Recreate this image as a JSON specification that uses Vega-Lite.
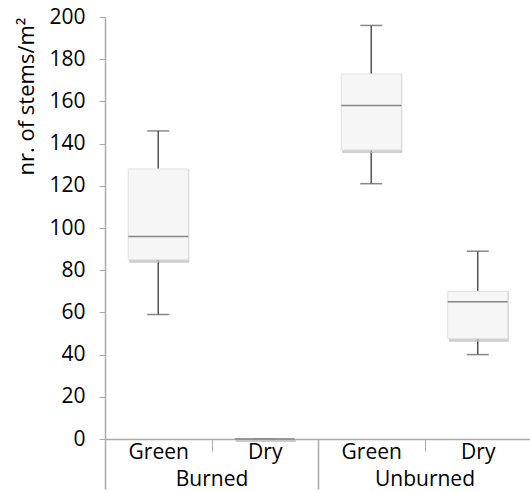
{
  "$schema": "https://vega.github.io/schema/vega-lite/v6.json",
  "width": 426,
  "height": 422,
  "autosize": "none",
  "padding": {"left": 105, "top": 17, "right": 0, "bottom": 54},
  "background": "white",
  "config": {
    "view": {"stroke": null},
    "font": "Open Sans",
    "axis": {"grid": false, "labelFont": "Open Sans", "titleFont": "Open Sans", "labelColor": "#000", "titleColor": "#000", "domainColor": "#aaa", "tickColor": "#aaa"}
  },
  "data": {
    "values": [
      {"group": "Burned", "cat": "Burned Green", "lower": 59, "q1": 85, "median": 96, "q3": 128, "upper": 146},
      {"group": "Burned", "cat": "Burned Dry", "lower": 0, "q1": 0, "median": 0, "q3": 0, "upper": 0},
      {"group": "Unburned", "cat": "Unburned Green", "lower": 121, "q1": 137, "median": 158, "q3": 173, "upper": 196},
      {"group": "Unburned", "cat": "Unburned Dry", "lower": 40, "q1": 47.5, "median": 65, "q3": 70, "upper": 89}
    ]
  },
  "layer": [
    {
      "encoding": {
        "x": {
          "field": "cat", "type": "nominal", "sort": null,
          "scale": {"paddingInner": 0, "paddingOuter": 0},
          "axis": {"orient": "bottom", "title": null, "labelAngle": 0, "labelExpr": "split(datum.label, ' ')[1]", "tickBand": "extent", "tickSize": 12, "labelPadding": -10, "labelFontSize": 21, "domainColor": "#aaa", "domainWidth": 1.5}
        }
      },
      "layer": [
        {
          "mark": {"type": "rule", "color": "#555", "strokeWidth": 1.5},
          "encoding": {
            "y": {"field": "lower", "type": "quantitative", "scale": {"domain": [0, 200], "nice": false},
              "axis": {"title": "nr. of stems/m²", "titleFontSize": 22, "titleFontWeight": "normal", "titleAnchor": "end", "titlePadding": 10, "labelFontSize": 21, "tickCount": 10, "tickSize": 6, "labelPadding": 14, "domainWidth": 1.5}},
            "y2": {"field": "upper"}
          }
        },
        {
          "mark": {"type": "tick", "color": "#555", "size": 22, "thickness": 1.5},
          "encoding": {"y": {"field": "lower", "type": "quantitative"}}
        },
        {
          "mark": {"type": "tick", "color": "#555", "size": 22, "thickness": 1.5},
          "encoding": {"y": {"field": "upper", "type": "quantitative"}}
        },
        {
          "mark": {"type": "bar", "width": 60, "color": "#b8b8b8", "opacity": 0.7, "xOffset": 1, "yOffset": 3},
          "encoding": {"y": {"field": "q1", "type": "quantitative"}, "y2": {"field": "q3"}}
        },
        {
          "mark": {"type": "bar", "width": 60, "fill": "#f6f6f6", "stroke": "#e2e2e2", "strokeWidth": 1},
          "encoding": {"y": {"field": "q1", "type": "quantitative"}, "y2": {"field": "q3"}}
        },
        {
          "mark": {"type": "tick", "color": "#5a5a5a", "size": 60, "thickness": 1.5},
          "encoding": {"y": {"field": "median", "type": "quantitative"}}
        }
      ]
    },
    {
      "mark": {"type": "tick", "opacity": 0},
      "encoding": {
        "x": {
          "field": "group", "type": "nominal", "sort": null,
          "scale": {"paddingInner": 0, "paddingOuter": 0},
          "axis": {"orient": "bottom", "title": null, "labelAngle": 0, "domain": false, "tickBand": "extent", "tickSize": 50, "labelPadding": -21, "labelFontSize": 21, "tickColor": "#aaa", "tickWidth": 1.5}
        },
        "y": {"field": "median", "type": "quantitative"}
      }
    }
  ],
  "resolve": {"scale": {"x": "independent"}, "axis": {"x": "independent"}}
}
